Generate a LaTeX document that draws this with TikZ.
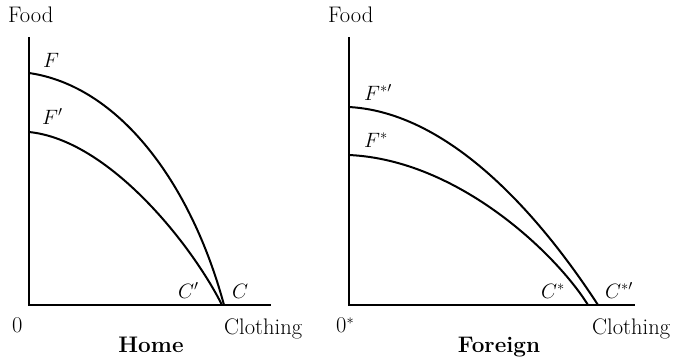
\documentclass[tikz,border=0pt]{standalone}
\usepackage{tikz}

\begin{document}
\begin{tikzpicture}[x=1pt, y=-1pt, every node/.style={font=\fontsize{22.5}{27}\selectfont, inner sep=0pt, anchor=base west}]
\tikzset{axis/.style={line width=2.6pt}, ppf/.style={line width=2pt}}
\useasboundingbox (0,0) rectangle (677,360);

% Home axes
\coordinate (hO) at (29,305);
\coordinate (hTop) at (29,37);
\coordinate (hEnd) at (271,305);
\draw[axis] (hTop) -- (hO) -- (hEnd);

% Home frontiers
\coordinate (hF) at (29,73);
\coordinate (hC) at (224,305);
\coordinate (hFp) at (29,132);
\coordinate (hCp) at (222,305);
\draw[ppf] (hF) .. controls (119,86) and (191,183) .. (hC);
\draw[ppf] (hFp) .. controls (109,140) and (192,245) .. (hCp);

% Home labels
\node (hFood) at (8,22) {Food};
\node (hZero) at (12,332) {0};
\node (hCloth) at (224,334) {Clothing};
\node[anchor=base] (hName) at (151,352) {\textbf{Home}};
\node (hFlbl) at (43,67) {$F$};
\node (hFplbl) at (42,124) {$F'$};
\node (hCplbl) at (178,298) {$C'$};
\node (hClbl) at (232,298) {$C$};

% Foreign axes
\coordinate (fO) at (349,305);
\coordinate (fTop) at (349,37);
\coordinate (fEnd) at (635,305);
\draw[axis] (fTop) -- (fO) -- (fEnd);

% Foreign frontiers
\coordinate (fFp) at (349,107);
\coordinate (fCp) at (598,305);
\coordinate (fF) at (349,155);
\coordinate (fC) at (588,305);
\draw[ppf] (fFp) .. controls (459,113) and (552.5,235) .. (fCp);
\draw[ppf] (fF) .. controls (459,160) and (557,255) .. (fC);

% Foreign labels
\node (fFood) at (328,22) {Food};
\node (fZero) at (336,332) {0$^*$};
\node (fCloth) at (592,334) {Clothing};
\node[anchor=base] (fName) at (499,352) {\textbf{Foreign}};
\node (fFplbl) at (364,100) {$F^{*\prime}$};
\node (fFlbl) at (364,147) {$F^{*}$};
\node (fClbl) at (541,298) {$C^{*}$};
\node (fCplbl) at (605,298) {$C^{*\prime}$};

\end{tikzpicture}
\end{document}
